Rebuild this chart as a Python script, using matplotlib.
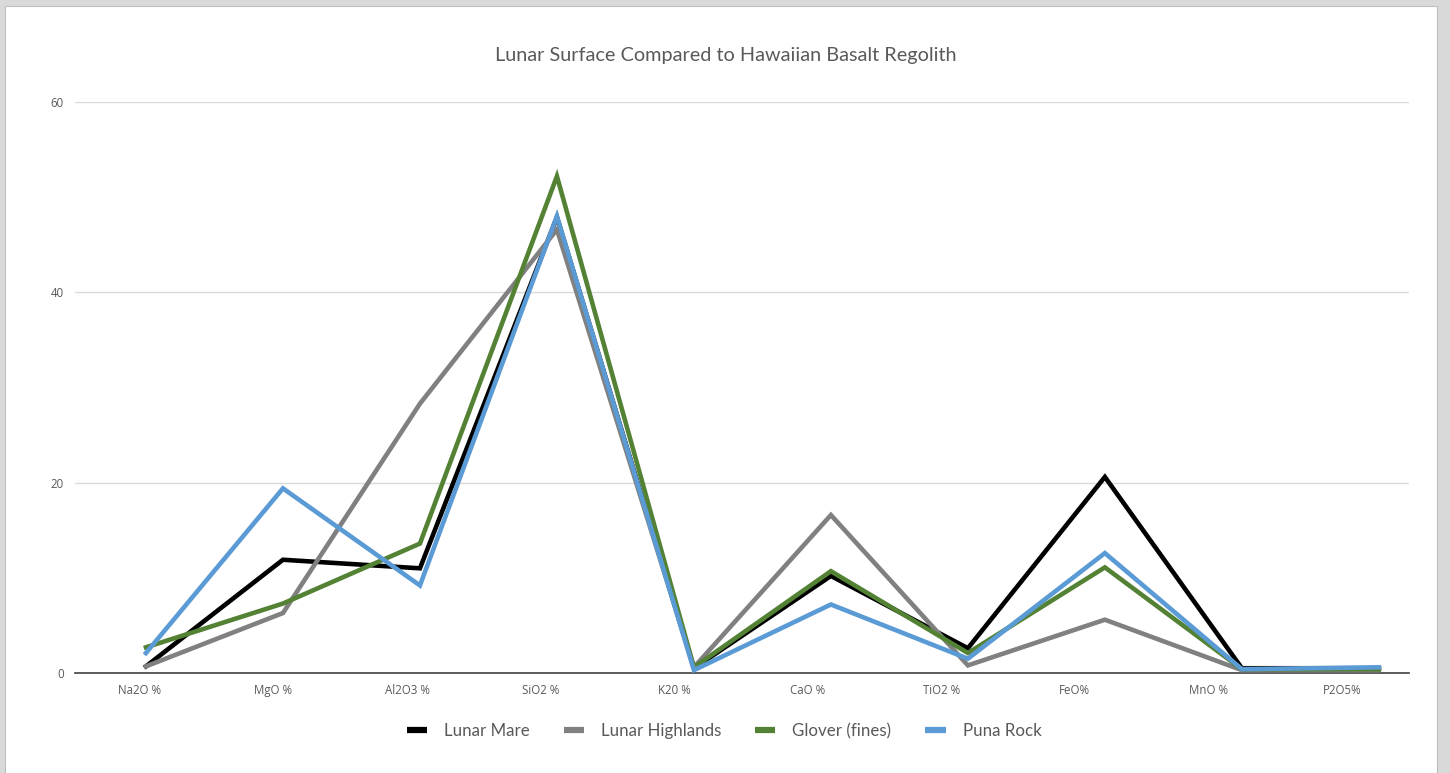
import matplotlib
matplotlib.use("Agg")
import matplotlib.pyplot as plt
from matplotlib.patches import Rectangle
import numpy as np

categories = ["Na2O %", "MgO %", "Al2O3 %", "SiO2 %", "K20 %", "CaO %", "TiO2 %", "FeO%", "MnO %", "P2O5%"]
lunar_mare = [0.7, 11.9, 11.0, 47.9, 0.5, 10.2, 2.6, 20.6, 0.5, 0.5]
lunar_highlands = [0.7, 6.3, 28.3, 46.6, 0.6, 16.6, 0.8, 5.6, 0.3, 0.3]
glover_fines = [2.7, 7.3, 13.6, 52.2, 0.6, 10.7, 2.1, 11.1, 0.4, 0.4]
puna_rock = [2.1, 19.4, 9.2, 48.0, 0.3, 7.2, 1.5, 12.6, 0.4, 0.6]

series = [
    ("Lunar Mare", lunar_mare, "#000000"),
    ("Lunar Highlands", lunar_highlands, "#808080"),
    ("Glover (fines)", glover_fines, "#548235"),
    ("Puna Rock", puna_rock, "#5B9BD5"),
]

W, H = 1450, 773
fig = plt.figure(figsize=(W / 100, H / 100), dpi=100)
fig.patch.set_facecolor("#D9D9D9")
fig.add_artist(Rectangle((5 / W, 0), (1437 - 5) / W, 1 - 6 / H, transform=fig.transFigure,
                         facecolor="white", edgecolor="#BFBFBF", lw=0.8, zorder=-10))

font = "Open Sans"
txtc = "#595959"

ax = fig.add_axes([75 / W, 1 - 673 / H, (1409 - 75) / W, (673 - 102) / H])
ax.set_facecolor("none")

x = np.arange(len(categories))
for name, vals, col in series:
    ax.plot(x, vals, color=col, lw=3.3, label=name, solid_joinstyle="miter", zorder=3)

ax.set_ylim(0, 60)
ax.set_yticks([0, 20, 40, 60])
ax.set_xlim(-0.518, 9.22)
ax.set_xticks(-0.044 + 0.975 * x)
ax.set_xticklabels(categories)
ax.grid(axis="y", color="#D9D9D9", lw=1.0)
ax.set_axisbelow(True)
for s in ["top", "right", "left"]:
    ax.spines[s].set_visible(False)
ax.spines["bottom"].set_color("#404040")
ax.spines["bottom"].set_linewidth(1.2)
ax.spines["bottom"].set_zorder(2)
ax.tick_params(axis="both", length=0, labelsize=8.3, labelcolor=txtc)
ax.tick_params(axis="x", pad=8)
ax.tick_params(axis="y", pad=8)
for lab in ax.get_xticklabels() + ax.get_yticklabels():
    lab.set_fontfamily(font)

fig.text(726 / W, 1 - 56 / H, "Lunar Surface Compared to Hawaiian Basalt Regolith",
         ha="center", va="center", fontsize=14.3, color=txtc, family="Lato")

leg = fig.legend(loc="center", bbox_to_anchor=(724 / W, 1 - 731 / H), ncol=4, frameon=False,
                 prop={"family": "Lato", "size": 12.2}, handlelength=1.2, handletextpad=1.0,
                 columnspacing=2.0)
for t in leg.get_texts():
    t.set_color(txtc)
for h in leg.get_lines():
    h.set_linewidth(4.5)
    h.set_solid_capstyle("butt")

fig.savefig("out.png", dpi=100, facecolor=fig.get_facecolor())
